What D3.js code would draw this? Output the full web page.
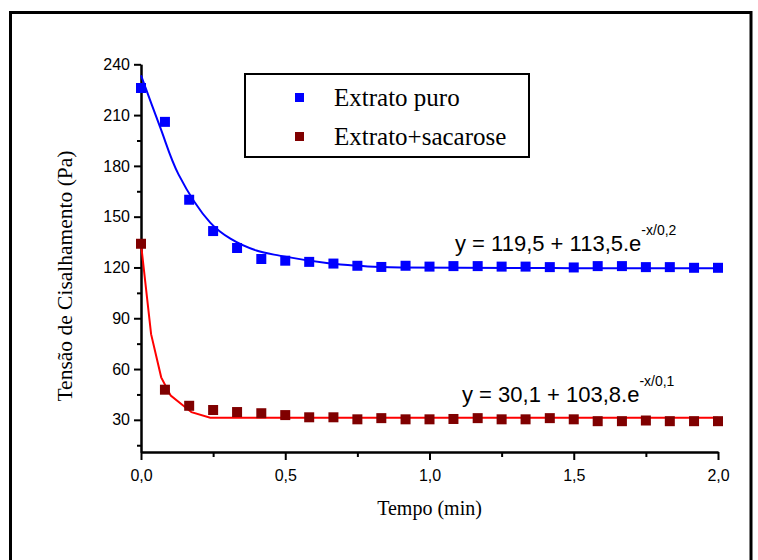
<!DOCTYPE html>
<html><head><meta charset="utf-8">
<script src="https://cdn.jsdelivr.net/npm/d3@7"></script>
<style>body{margin:0;background:#fff}svg{display:block}</style>
</head><body>
<svg id="c" width="758" height="560"></svg>
<script>
// ---- data ----
const seriesNames = ["Extrato puro", "Extrato+sacarose"];
const times = [0, 0.083, 0.167, 0.25, 0.333, 0.417, 0.5, 0.583, 0.667, 0.75, 0.833, 0.917, 1.0,
  1.083, 1.167, 1.25, 1.333, 1.417, 1.5, 1.583, 1.667, 1.75, 1.833, 1.917, 2.0];
const puro = [226, 206, 160, 141.5, 131.5, 125, 124, 123.3, 122.3, 121, 120.3, 121, 120.5,
  120.8, 120.8, 120.5, 120.5, 120.2, 120, 120.8, 120.8, 120.2, 120.2, 119.8, 119.8];
const sacarose = [134, 47.8, 38.3, 35.8, 34.6, 33.9, 32.8, 31.5, 31.5, 30.3, 31, 30.3, 30.3,
  30.5, 31, 30.3, 30.3, 31, 30.3, 29.2, 29.2, 29.6, 29.2, 29.2, 29.2];
// fitted curves
const puroFitX = [0, 0.066, 0.13, 0.24, 0.31, 0.40, 0.48, 0.65, 0.75, 0.83, 0.9, 1.1, 1.5, 2.0];
const puroFitY = [233.5, 203, 175, 146.5, 137, 130, 127, 122.5, 121, 120.3, 120, 119.8, 119.6, 119.5];
const sacFitX = [0, 0.035, 0.07, 0.103, 0.175, 0.24, 2.0];
const sacFitY = [134, 80.6, 55.1, 44.3, 34.5, 31.3, 31.3];
const yTicks = [30, 60, 90, 120, 150, 180, 210, 240];
const yMinor = [15, 45, 75, 105, 135, 165, 195, 225];
const xTicks = [0, 0.5, 1.0, 1.5, 2.0];
const xMinor = [0.25, 0.75, 1.25, 1.75];
const equations = [
  {main: "y = 119,5 + 113,5.e", sup: "-x/0,2"},
  {main: "y = 30,1 + 103,8.e", sup: "-x/0,1"}
];

// ---- drawing ----
const svg = d3.select("#c");
const x = d3.scaleLinear().domain([0, 2]).range([141, 718]);
const y = d3.scaleLinear().domain([11, 240]).range([452, 64.3]);
const markerColors = ["#0000ff", "#800000"];
const lineColors = ["#0000ff", "#ff0000"];
const sans = "'Liberation Sans', Arial, sans-serif";
const serif = "'Liberation Serif', 'Times New Roman', serif";

// outer frame
svg.append("rect").attr("x", 10.5).attr("y", 12.5).attr("width", 740.5).attr("height", 600)
  .attr("fill", "none").attr("stroke", "#000").attr("stroke-width", 3);

// axes
const fmt = v => d3.format(".1f")(v).replace(".", ",");
const gx = svg.append("g").attr("transform", "translate(0,452)")
  .call(d3.axisBottom(x).tickValues(xTicks).tickFormat(fmt).tickSize(8).tickSizeOuter(0).tickPadding(10));
const gxm = svg.append("g").attr("transform", "translate(0,452)")
  .call(d3.axisBottom(x).tickValues(xMinor).tickFormat("").tickSize(5).tickSizeOuter(0));
const gy = svg.append("g").attr("transform", "translate(141,0)")
  .call(d3.axisLeft(y).tickValues(yTicks).tickFormat(d3.format("d")).tickSize(7).tickSizeOuter(0).tickPadding(4));
const gym = svg.append("g").attr("transform", "translate(141,0)")
  .call(d3.axisLeft(y).tickValues(yMinor).tickFormat("").tickSize(4).tickSizeOuter(0));
[gx, gxm, gy, gym].forEach(g => {
  g.selectAll("path.domain").attr("stroke", "#000").attr("stroke-width", 2);
  g.selectAll(".tick line").attr("stroke", "#000").attr("stroke-width", 2);
  g.selectAll("text").attr("fill", "#000").style("font-family", sans).style("font-size", "16px");
});

// axis titles
svg.append("text").attr("x", 429.5).attr("y", 515).attr("text-anchor", "middle")
  .style("font-family", serif).style("font-size", "20px").text("Tempo (min)");
svg.append("text").attr("transform", "translate(72,276) rotate(-90)").attr("text-anchor", "middle")
  .style("font-family", serif).style("font-size", "21.5px").text("Tensão de Cisalhamento (Pa)");

// fit lines
svg.append("path").datum(puroFitX.map((v, i) => [v, puroFitY[i]]))
  .attr("d", d3.line().x(d => x(d[0])).y(d => y(d[1])).curve(d3.curveCatmullRom.alpha(0.5)))
  .attr("fill", "none").attr("stroke", lineColors[0]).attr("stroke-width", 2);
svg.append("path").datum(sacFitX.map((v, i) => [v, sacFitY[i]]))
  .attr("d", d3.line().x(d => x(d[0])).y(d => y(d[1]))).attr("fill", "none")
  .attr("stroke", lineColors[1]).attr("stroke-width", 2);

// markers
const ms = 10;
[puro, sacarose].forEach((vals, si) => {
  svg.append("g").selectAll("rect").data(vals).join("rect")
    .attr("x", (d, i) => x(times[i]) - ms / 2).attr("y", d => y(d) - ms / 2)
    .attr("width", ms).attr("height", ms).attr("fill", markerColors[si]);
});

// legend
svg.append("rect").attr("x", 245).attr("y", 74).attr("width", 284).attr("height", 83)
  .attr("fill", "#fff").attr("stroke", "#000").attr("stroke-width", 2);
seriesNames.forEach((name, i) => {
  const cy = 97.5 + i * 39;
  svg.append("rect").attr("x", 295).attr("y", cy - 4.5).attr("width", 9).attr("height", 9)
    .attr("fill", markerColors[i]);
  svg.append("text").attr("x", 334).attr("y", cy + 8).style("font-family", serif)
    .style("font-size", "25px").text(name);
});

// equations
const eqPos = [[455, 251], [462, 402]];
equations.forEach((eq, i) => {
  const t = svg.append("text").attr("x", eqPos[i][0]).attr("y", eqPos[i][1])
    .style("font-family", sans).style("font-size", "22px");
  t.append("tspan").text(eq.main);
  t.append("tspan").attr("dy", -16).style("font-size", "14px").text(eq.sup);
});
</script>
</body></html>
